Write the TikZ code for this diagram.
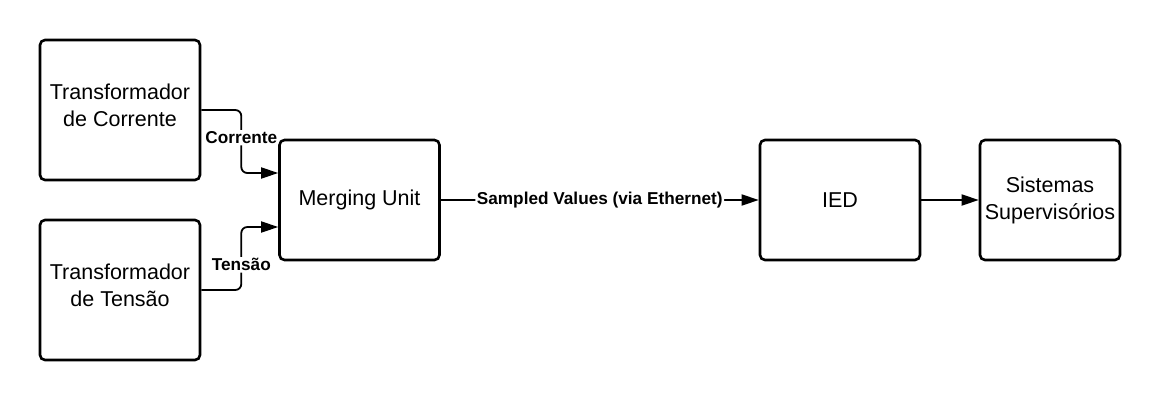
\documentclass[tikz,border=0pt]{standalone}
\usepackage{fontspec}
\setmainfont{Liberation Sans}
\usetikzlibrary{arrows.meta}

\begin{document}
\begin{tikzpicture}[x=1pt,y=-1pt,
    block/.style ={draw, line width=2.6pt, rounded corners=5pt, align=center,
                   font=\fontsize{21.5}{27}\selectfont},
    link/.style ={line width=1.8pt, rounded corners=6pt,
                  -{Triangle[length=17pt,width=11pt]}},
    tag/.style ={fill=white, inner sep=1.5pt, font=\bfseries\fontsize{17.2}{19}\selectfont}]
   \useasboundingbox (0,0) rectangle (1160,400);
   \node[block, minimum width=160pt, minimum height=140pt, text depth=10pt] (TC) at (120,110)  {Transformador\\de Corrente};
   \node[block, minimum width=160pt, minimum height=140pt, text depth=10pt] (TT) at (120,290)  {Transformador\\de Tensão};
   \node[block, minimum width=160pt, minimum height=120pt] (MU) at (359.5,200)  {Merging Unit};
   \node[block, minimum width=160pt, minimum height=120pt] (IED) at (840,200)  {IED};
   \node[block, minimum width=140pt, minimum height=120pt] (SS) at (1050,200)  {Sistemas\\Supervisórios};
   \draw[link] (TC.east) -- ++(40,0) |- ([yshift=27pt]MU.west) node[tag, pos=0.22] {Corrente};
   \draw[link] (TT.east) -- ++(40,0) |- ([yshift=-27pt]MU.west) node[tag, pos=0.2] {Tensão};
   \draw[link] (MU) to node[tag, midway] {Sampled Values (via Ethernet)} (IED);
   \draw[link] (IED) to (SS);
 \end{tikzpicture}
\end{document}
